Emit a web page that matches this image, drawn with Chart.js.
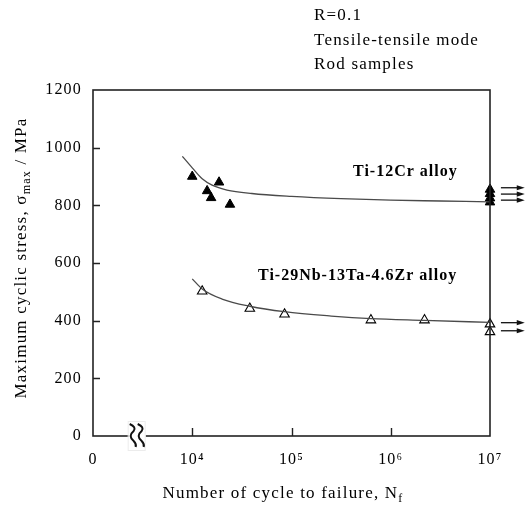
<!DOCTYPE html>
<html>
<head>
<meta charset="utf-8">
<script src="https://cdn.jsdelivr.net/npm/chart.js@4"></script>
<style>
  html, body { margin: 0; padding: 0; background: #fff; }
  #wrap { width: 532px; height: 508px; }
</style>
</head>
<body>
<div id="wrap"><canvas id="snChart" width="532" height="508"></canvas></div>
<script>
// x values are log10(N); 3 stands for the "0" at the axis break
const xTickValues = [3, 4, 5, 6, 7];
const xTickLabels = ['0', '10\u2074', '10\u2075', '10\u2076', '10\u2077'];
const yTickValues = [0, 200, 400, 600, 800, 1000, 1200];

// Ti-12Cr, failed specimens
const crLogN = [4.0, 4.15, 4.19, 4.27, 4.38];
const crStress = [900, 850, 826, 880, 803];
// Ti-12Cr, run-outs at 10^7
const crRunLogN = [7, 7, 7, 7];
const crRunStress = [855, 840, 825, 811];
const crArrows = [861, 839, 818];

// Ti-29Nb-13Ta-4.6Zr
const nbLogN = [4.1, 4.58, 4.93, 5.8, 6.34, 7, 7];
const nbStress = [502, 442, 422, 402, 402, 388, 361];
const nbArrows = [393, 365];

// hand-drawn fit curves
const crCurveLogN = [3.9, 4.0, 4.1, 4.2, 4.35, 4.6, 5.0, 5.5, 6.0, 6.5, 7.0];
const crCurveStress = [970, 930, 892, 870, 853, 841, 831, 823, 818, 815, 812];
const nbCurveLogN = [4.0, 4.1, 4.3, 4.58, 4.93, 5.4, 5.8, 6.34, 7.0];
const nbCurveStress = [545, 510, 475, 450, 431, 416, 407, 401, 394];

const breakAt = 3.44;

const serif = '"Liberation Serif", "Times New Roman", serif';

const pts = (xs, ys) => xs.map((x, i) => ({ x: x, y: ys[i] }));

function spacedText(ctx, txt, x, y, spacing) {
    ctx.letterSpacing = spacing + 'px';
    ctx.fillText(txt, x, y);
    ctx.letterSpacing = '0px';
}

const decorPlugin = {
    id: 'decor',
    beforeDraw(chart) {
        chart.ctx.letterSpacing = '1.2px';
    },
    afterDraw(chart) {
        const ctx = chart.ctx;
        const a = chart.chartArea;
        const xs = chart.scales.x;
        const ys = chart.scales.y;
        ctx.save();
        ctx.letterSpacing = '0px';

        // frame
        ctx.strokeStyle = '#222';
        ctx.lineWidth = 1.6;
        ctx.strokeRect(a.left, a.top, a.right - a.left, a.bottom - a.top);

        // inward tick marks
        ctx.lineWidth = 1.4;
        ctx.beginPath();
        yTickValues.slice(1, -1).forEach(v => {
            const py = Math.round(ys.getPixelForValue(v)) + 0.5;
            ctx.moveTo(a.left, py);
            ctx.lineTo(a.left + 7, py);
        });
        xTickValues.slice(1, -1).forEach(v => {
            const px = Math.round(xs.getPixelForValue(v)) + 0.5;
            ctx.moveTo(px, a.bottom);
            ctx.lineTo(px, a.bottom - 8);
        });
        ctx.stroke();

        // axis break symbol
        const bx = xs.getPixelForValue(breakAt);
        ctx.fillStyle = '#fff';
        ctx.fillRect(bx - 8, a.bottom - 14, 17, 29);
        ctx.strokeStyle = '#ececec';
        ctx.lineWidth = 1;
        ctx.strokeRect(bx - 8.5, a.bottom - 14.5, 17, 29);
        ctx.strokeStyle = '#111';
        ctx.lineWidth = 2;
        [-4, 4].forEach(dx => {
            const cx = bx + dx;
            const b = a.bottom;
            ctx.beginPath();
            ctx.moveTo(cx - 3, b - 12);
            ctx.quadraticCurveTo(cx + 4, b - 9, cx + 1, b - 5);
            ctx.quadraticCurveTo(cx - 5, b, cx + 1, b + 5);
            ctx.quadraticCurveTo(cx + 4, b + 8, cx + 3, b + 11);
            ctx.stroke();
        });

        // run-out arrows
        const drawArrows = (vals) => {
            const x0 = xs.getPixelForValue(7.11);
            const x1 = xs.getPixelForValue(7.35);
            vals.forEach(v => {
                const py = ys.getPixelForValue(v);
                ctx.strokeStyle = '#111';
                ctx.lineWidth = 1.3;
                ctx.beginPath();
                ctx.moveTo(x0, py);
                ctx.lineTo(x1 - 5, py);
                ctx.stroke();
                ctx.fillStyle = '#111';
                ctx.beginPath();
                ctx.moveTo(x1, py);
                ctx.lineTo(x1 - 8, py - 2.6);
                ctx.lineTo(x1 - 8, py + 2.6);
                ctx.closePath();
                ctx.fill();
            });
        };
        drawArrows(crArrows);
        drawArrows(nbArrows);

        // annotations
        ctx.fillStyle = '#000';
        ctx.textBaseline = 'middle';
        ctx.textAlign = 'left';
        ctx.font = '17px ' + serif;
        spacedText(ctx, 'R=0.1', 314, 16, 1.2);
        spacedText(ctx, 'Tensile-tensile mode', 314, 41, 1.2);
        spacedText(ctx, 'Rod samples', 314, 65, 1.2);

        ctx.font = 'bold 16px ' + serif;
        spacedText(ctx, 'Ti-12Cr alloy', 353, 172, 1);
        spacedText(ctx, 'Ti-29Nb-13Ta-4.6Zr alloy', 258, 276, 1);

        // x axis title with subscript
        ctx.font = '17px ' + serif;
        ctx.letterSpacing = '1.2px';
        const xt = 'Number of cycle to failure, N';
        const wMain = ctx.measureText(xt).width;
        ctx.font = '12px ' + serif;
        const wSub = ctx.measureText('f').width;
        let sx = 283 - (wMain + wSub) / 2;
        ctx.font = '17px ' + serif;
        ctx.fillText(xt, sx, 494);
        ctx.font = '12px ' + serif;
        ctx.fillText('f', sx + wMain, 499);

        // y axis title, rotated, with subscript
        ctx.save();
        ctx.translate(22, 258);
        ctx.rotate(-Math.PI / 2);
        const parts = [
            ['Maximum cyclic stress, \u03c3', '17px', 0],
            ['max', '12px', 5],
            [' / MPa', '17px', 0]
        ];
        let total = 0;
        parts.forEach(p => { ctx.font = p[1] + ' ' + serif; total += ctx.measureText(p[0]).width; });
        let px = -total / 2;
        parts.forEach(p => {
            ctx.font = p[1] + ' ' + serif;
            ctx.fillText(p[0], px, p[2]);
            px += ctx.measureText(p[0]).width;
        });
        ctx.restore();

        ctx.restore();
    }
};

new Chart(document.getElementById('snChart'), {
    type: 'scatter',
    data: {
        datasets: [
            {
                label: 'Ti-12Cr fit',
                data: pts(crCurveLogN, crCurveStress),
                showLine: true,
                borderColor: '#4a4a4a',
                borderWidth: 1.3,
                pointRadius: 0,
                cubicInterpolationMode: 'monotone'
            },
            {
                label: 'Ti-29Nb fit',
                data: pts(nbCurveLogN, nbCurveStress),
                showLine: true,
                borderColor: '#4a4a4a',
                borderWidth: 1.3,
                pointRadius: 0,
                cubicInterpolationMode: 'monotone'
            },
            {
                label: 'Ti-12Cr',
                data: pts(crLogN, crStress),
                pointStyle: 'triangle',
                pointRadius: 5.5,
                backgroundColor: '#000',
                borderColor: '#000',
                borderWidth: 1
            },
            {
                label: 'Ti-12Cr run-out',
                data: pts(crRunLogN, crRunStress),
                pointStyle: 'triangle',
                pointRadius: 5.5,
                backgroundColor: '#000',
                borderColor: '#000',
                borderWidth: 1,
                clip: false
            },
            {
                label: 'Ti-29Nb-13Ta-4.6Zr',
                data: pts(nbLogN, nbStress),
                pointStyle: 'triangle',
                pointRadius: 5.5,
                backgroundColor: '#fff',
                borderColor: '#000',
                borderWidth: 1.1,
                clip: false
            }
        ]
    },
    options: {
        responsive: false,
        animation: false,
        layout: { padding: { top: 90, right: 42, left: 0, bottom: 0 } },
        plugins: {
            legend: { display: false },
            tooltip: { enabled: false }
        },
        scales: {
            x: {
                type: 'linear',
                min: 3,
                max: 7,
                afterFit: (s) => { s.height = 72; },
                afterBuildTicks: (s) => { s.ticks = xTickValues.map(v => ({ value: v })); },
                grid: { display: false, drawTicks: false },
                border: { display: false },
                ticks: {
                    color: '#000',
                    padding: 14,
                    maxRotation: 0,
                    font: { family: serif, size: 16 },
                    callback: (v) => xTickLabels[xTickValues.indexOf(v)]
                }
            },
            y: {
                min: 0,
                max: 1200,
                afterFit: (s) => { s.width = 93; },
                afterBuildTicks: (s) => { s.ticks = yTickValues.map(v => ({ value: v })); },
                grid: { display: false, drawTicks: false },
                border: { display: false },
                ticks: {
                    color: '#000',
                    padding: 11,
                    font: { family: serif, size: 16 },
                    callback: (v) => String(v)
                }
            }
        }
    },
    plugins: [decorPlugin]
});
</script>
</body>
</html>
